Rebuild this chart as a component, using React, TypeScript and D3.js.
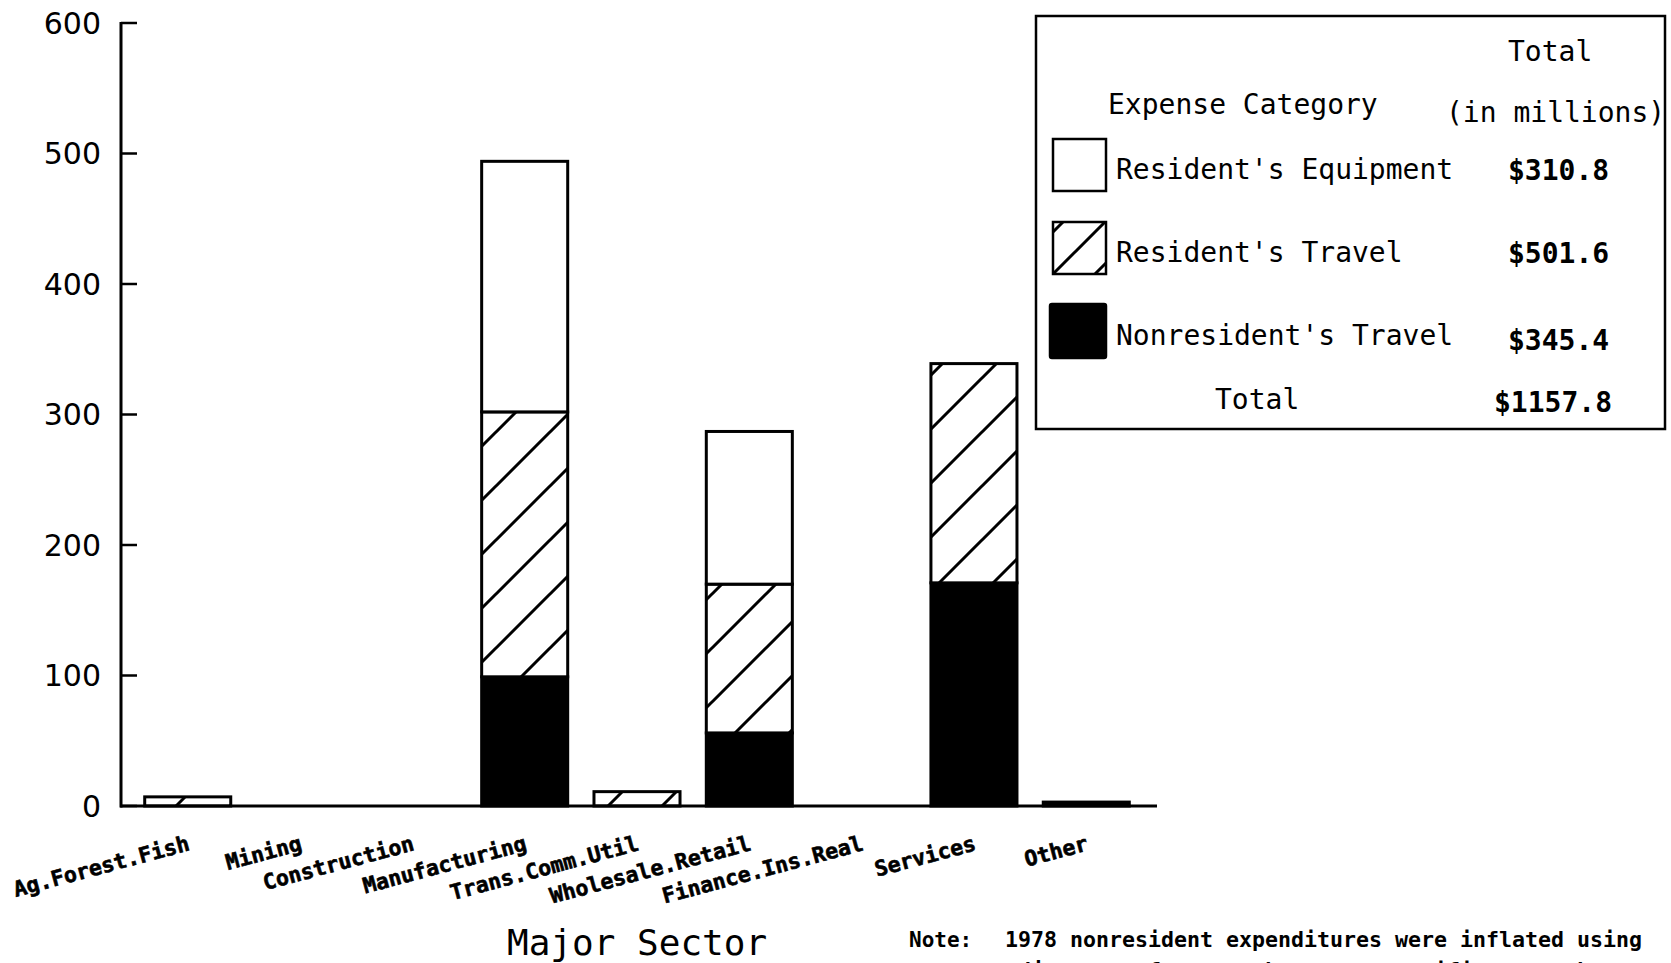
import React from "react";
import * as d3 from "d3";

const categories = [
  "Ag.Forest.Fish",
  "Mining",
  "Construction",
  "Manufacturing",
  "Trans.Comm.Util",
  "Wholesale.Retail",
  "Finance.Ins.Real",
  "Services",
  "Other",
];
const nonresidentTravel = [0, 0, 0, 99, 0, 56, 0, 171, 3];
const residentTravel = [7, 0, 0, 203, 11, 114, 0, 168, 0];
const residentEquipment = [0, 0, 0, 192, 0, 117, 0, 0, 0];
const yTicks = [0, 100, 200, 300, 400, 500, 600];
const seriesKeys = ["nonres", "resTravel", "resEquip"];
const legendLabels = ["Resident's Equipment", "Resident's Travel", "Nonresident's Travel"];
const legendKeys = ["resEquip", "resTravel", "nonres"];
const legendTotals = ["$310.8", "$501.6", "$345.4"];
const grandTotal = "$1157.8";

const W = 1671;
const H = 963;
const MONO = "'DejaVu Sans Mono', 'Liberation Mono', monospace";
const SANS = "'DejaVu Sans', 'Liberation Sans', sans-serif";

export default function App() {
  const rows = categories.map((c, i) => ({
    cat: c,
    nonres: nonresidentTravel[i],
    resTravel: residentTravel[i],
    resEquip: residentEquipment[i],
  }));
  const stacked = d3.stack<any>().keys(seriesKeys)(rows);

  const y = d3.scaleLinear().domain([0, 600]).range([806, 23]);
  const x = d3
    .scaleBand<string>()
    .domain(categories)
    .range([120, 1154])
    .paddingInner(0.234)
    .paddingOuter(0.22);

  const fillFor = (k: string) =>
    k === "nonres" ? "#000" : k === "resTravel" ? "url(#hatch)" : "#fff";
  const legendFill = (k: string) =>
    k === "nonres" ? "#000" : k === "resTravel" ? "url(#hatchLegend)" : "#fff";

  const hs = 54;
  const hl = 42;
  const hatchPath = (s: number) =>
    `M${-s / 4},${s / 4} l${s / 2},${-s / 2} M0,${s} l${s},${-s} M${(3 * s) / 4},${(5 * s) / 4} l${s / 2},${-s / 2}`;

  const lgX = 1036, lgY = 16, lgW = 629, lgH = 413;
  const swatchY = [139, 222, 304];
  const textY = [179, 262, 345];
  const valY = [180, 263, 350];

  return (
    <svg
      width={W}
      height={H}
      style={{ position: "absolute", left: 0, top: 0, background: "#fff" }}
    >
      <defs>
        <pattern id="hatch" patternUnits="userSpaceOnUse" width={hs} height={hs} x={10}>
          <rect width={hs} height={hs} fill="#fff" />
          <path d={hatchPath(hs)} stroke="#000" strokeWidth={3} />
        </pattern>
        <pattern id="hatchLegend" patternUnits="userSpaceOnUse" width={hl} height={hl} x={1327 % hl}>
          <rect width={hl} height={hl} fill="#fff" />
          <path d={hatchPath(hl)} stroke="#000" strokeWidth={3} />
        </pattern>
      </defs>
      <rect width={W} height={H} fill="#fff" />

      {stacked.map((s) => (
        <g key={s.key}>
          {s.map((d, i) => {
            const h = y(d[0]) - y(d[1]);
            if (h <= 0) return null;
            return (
              <rect
                key={i}
                x={x(categories[i])}
                y={y(d[1])}
                width={x.bandwidth()}
                height={h}
                fill={fillFor(s.key)}
                stroke="#000"
                strokeWidth={3}
              />
            );
          })}
        </g>
      ))}

      <line x1={121} x2={121} y1={y(600) - 1} y2={y(0) + 1.5} stroke="#000" strokeWidth={3} />
      <line x1={120} x2={1157} y1={y(0)} y2={y(0)} stroke="#000" strokeWidth={3} />
      {yTicks.map((t) => (
        <g key={t}>
          <line x1={121} x2={137} y1={y(t)} y2={y(t)} stroke="#000" strokeWidth={2.5} />
          <text
            x={101}
            y={y(t)}
            textAnchor="end"
            dominantBaseline="central"
            fontFamily={SANS}
            fontSize={30}
            fill="#000"
          >
            {t}
          </text>
        </g>
      ))}

      {categories.map((c) => {
        const cx = (x(c) as number) + x.bandwidth() / 2 + 3;
        const cy = 850;
        return (
          <text
            key={c}
            x={cx}
            y={cy}
            transform={`rotate(-15 ${cx} ${cy})`}
            textAnchor="end"
            fontFamily={MONO}
            fontWeight="bold"
            fontSize={21.5}
            stroke="#000"
            strokeWidth={0.6}
            fill="#000"
          >
            {c}
          </text>
        );
      })}

      <text x={507} y={955} fontFamily={MONO} fontSize={36} fill="#000">
        Major Sector
      </text>

      <text x={909} y={947} fontFamily={MONO} fontWeight="bold" fontSize={21} fill="#000">
        Note:
      </text>
      <text x={1005} y={947} fontFamily={MONO} fontWeight="bold" fontSize={21.6} fill="#000">
        1978 nonresident expenditures were inflated using
      </text>
      <text x={1005} y={978} fontFamily={MONO} fontWeight="bold" fontSize={21.6} fill="#000">
        adjustment factors that were specific to each sector
      </text>

      <rect x={lgX} y={lgY} width={lgW} height={lgH} fill="#fff" stroke="#000" strokeWidth={2.5} />
      <text x={1508} y={61} fontFamily={MONO} fontSize={28} fill="#000">Total</text>
      <text x={1108} y={114} fontFamily={MONO} fontSize={28} fill="#000">Expense Category</text>
      <text x={1446} y={122} fontFamily={MONO} fontSize={28} fill="#000">(in millions)</text>
      {legendKeys.map((k, i) => (
        <g key={k}>
          <rect
            x={k === "nonres" ? 1050 : 1053}
            y={swatchY[i]}
            width={k === "nonres" ? 56 : 53}
            height={k === "nonres" ? 54 : 52}
            fill={legendFill(k)}
            stroke="#000"
            strokeWidth={2.5}
            rx={k === "nonres" ? 2 : 0}
          />
          <text x={1116} y={textY[i]} fontFamily={MONO} fontSize={28} fill="#000">
            {legendLabels[i]}
          </text>
          <text x={1508} y={valY[i]} fontFamily={MONO} fontWeight="bold" fontSize={28} fill="#000">
            {legendTotals[i]}
          </text>
        </g>
      ))}
      <text x={1215} y={409} fontFamily={MONO} fontSize={28} fill="#000">Total</text>
      <text x={1494} y={412} fontFamily={MONO} fontWeight="bold" fontSize={28} fill="#000">
        {grandTotal}
      </text>
    </svg>
  );
}
